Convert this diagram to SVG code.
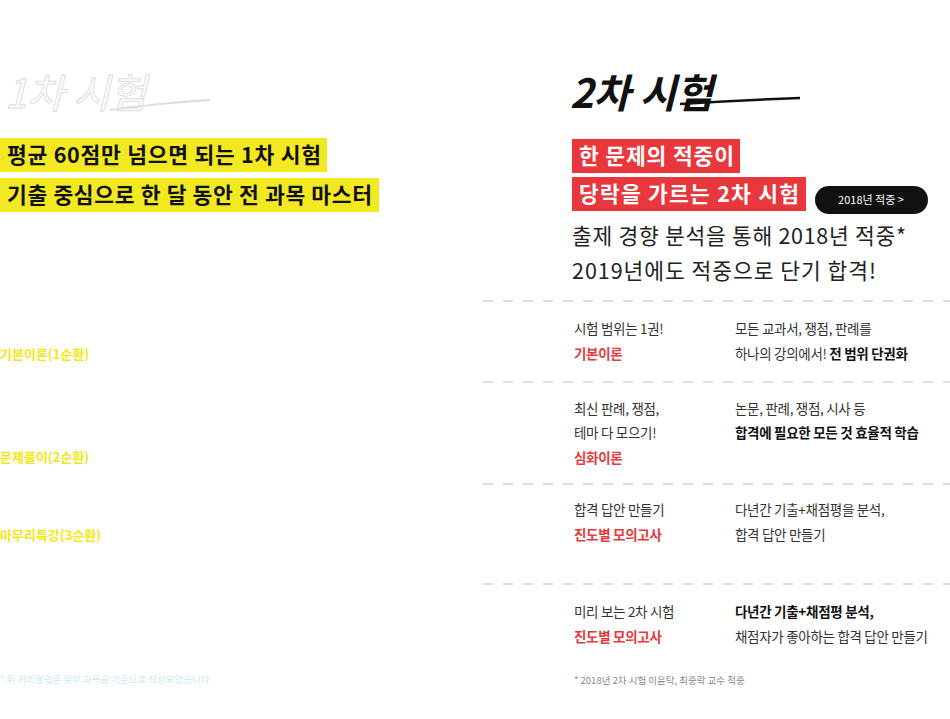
<svg xmlns="http://www.w3.org/2000/svg" width="950" height="719" viewBox="0 0 950 719">
<style>
text{font-family:"Noto Sans CJK KR","Noto Sans",sans-serif}
.hl{font-size:21.5px;font-weight:700;fill:#111}
.lab{font-size:13px;font-weight:700;fill:#f5e614}
.t{font-size:13.5px;fill:#333;letter-spacing:-0.3px}
.r{font-size:13.5px;font-weight:700;fill:#e8383d;letter-spacing:-0.3px}
.b{font-size:13.5px;font-weight:700;fill:#111;letter-spacing:-0.3px}
.d{stroke:#bbb;stroke-width:1;stroke-dasharray:10,10}
</style>
<rect width="950" height="719" fill="#fff"/>
<g id="left-title">
<text x="5" y="108" font-size="40" font-style="italic" fill="#fff" stroke="#ddd" stroke-width="1" font-family="DejaVu Sans">1차 시험</text>
<path d="M110,110 Q160,103 210,100" stroke="#ddd" stroke-width="2" fill="none"/>
</g>
<g id="left-head">
<rect x="0" y="138" width="327" height="34" fill="#f2e923"/>
<text class="hl" x="7" y="163" textLength="314" lengthAdjust="spacing">평균 60점만 넘으면 되는 1차 시험</text>
<rect x="0" y="178" width="379" height="34" fill="#f2e923"/>
<text class="hl" x="7" y="203" textLength="365" lengthAdjust="spacing">기출 중심으로 한 달 동안 전 과목 마스터</text>
</g>
<g id="left-labels">
<text class="lab" x="0" y="359">기본이론(1순환)</text>
<text class="lab" x="0" y="462">문제풀이(2순환)</text>
<text class="lab" x="0" y="540">마무리특강(3순환)</text>
<text x="0" y="683" font-size="9.5" fill="#cde9f5">* 위 커리큘럼은 일부 과목을 기준으로 작성되었습니다.</text>
</g>
<g id="right-title">
<text x="570" y="108" font-size="40" font-style="italic" font-weight="700" fill="#111" font-family="DejaVu Sans">2차 시험</text>
<path d="M680,104 Q740,100 800,98" stroke="#111" stroke-width="2.5" fill="none"/>
</g>
<g id="right-head">
<rect x="572" y="139" width="168" height="34" fill="#e8383d"/>
<text x="579" y="164" font-size="21.5" font-weight="700" fill="#fff" textLength="155" lengthAdjust="spacing">한 문제의 적중이</text>
<rect x="572" y="177" width="234" height="34" fill="#e8383d"/>
<text x="579" y="202" font-size="21.5" font-weight="700" fill="#fff" textLength="220" lengthAdjust="spacing">당락을 가르는 2차 시험</text>
<rect x="815" y="186" width="113" height="28" rx="14" fill="#111"/>
<text x="871" y="204" font-size="11" fill="#fff" text-anchor="middle">2018년 적중  &gt;</text>
<text x="572" y="244" font-size="21.5" fill="#222" textLength="334" lengthAdjust="spacing">출제 경향 분석을 통해 2018년 적중*</text>
<text x="572" y="279" font-size="21.5" fill="#222" textLength="304" lengthAdjust="spacing">2019년에도 적중으로 단기 합격!</text>
</g>
<g id="connectors">
<line class="d" x1="483" y1="301" x2="950" y2="301"/>
<line class="d" x1="483" y1="382" x2="950" y2="382"/>
<line class="d" x1="483" y1="484" x2="950" y2="484"/>
<line class="d" x1="483" y1="584" x2="950" y2="584"/>
</g>
<g id="row1">
<text class="t" x="574" y="334">시험 범위는 1권!</text>
<text class="r" x="574" y="359">기본이론</text>
<text class="t" x="735" y="334">모든 교과서, 쟁점, 판례를</text>
<text class="t" x="735" y="359">하나의 강의에서! <tspan class="b">전 범위 단권화</tspan></text>
</g>
<g id="row2">
<text class="t" x="574" y="414">최신 판례, 쟁점,</text>
<text class="t" x="574" y="438">테마 다 모으기!</text>
<text class="r" x="574" y="463">심화이론</text>
<text class="t" x="735" y="414">논문, 판례, 쟁점, 시사 등</text>
<text class="b" x="735" y="438">합격에 필요한 모든 것 효율적 학습</text>
</g>
<g id="row3">
<text class="t" x="574" y="515">합격 답안 만들기</text>
<text class="r" x="574" y="540">진도별 모의고사</text>
<text class="t" x="735" y="515">다년간 기출+채점평을 분석,</text>
<text class="t" x="735" y="540">합격 답안 만들기</text>
</g>
<g id="row4">
<text class="t" x="574" y="617">미리 보는 2차 시험</text>
<text class="r" x="574" y="642">진도별 모의고사</text>
<text class="b" x="735" y="617">다년간 기출+채점평 분석,</text>
<text class="t" x="735" y="642">채점자가 좋아하는 합격 답안 만들기</text>
<text x="574" y="684" font-size="9.5" fill="#888">* 2018년 2차 시험 이윤탁, 최중락 교수 적중</text>
</g>
</svg>
